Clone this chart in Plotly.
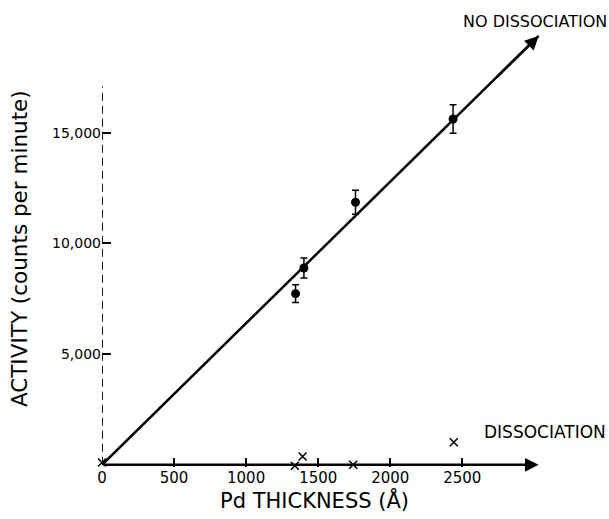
import plotly.graph_objects as go

# Data
thickness_pts = [1343, 1401, 1759, 2436]          # Pd thickness (Å), no dissociation
activity_pts = [7730, 8890, 11860, 15620]         # counts per minute
activity_err = [400, 450, 540, 640]

thickness_x = [0, 1338, 1392, 1743, 2441]         # dissociation points
activity_x = [100, -40, 370, 0, 1020]

fit_x = [0, 3030]                                 # "no dissociation" line
fit_y = [0, 19370]

x_tickvals = [0, 500, 1000, 1500, 2000, 2500]
x_ticktext = ["0", "500", "1000", "1500", "2000", "2500"]
y_tickvals = [5000, 10000, 15000]
y_ticktext = ["5,000", "10,000", "15,000"]

axis_x_end = 3030
axis_y_end = 17100

FONT = "DejaVu Sans"

fig = go.Figure()

# dashed vertical axis
fig.add_trace(go.Scatter(
    x=[0, 0], y=[0, axis_y_end], mode="lines",
    line=dict(color="black", width=1.8, dash="8px,5px"),
    cliponaxis=False, hoverinfo="skip", showlegend=False))

fig.add_trace(go.Scatter(
    x=fit_x, y=fit_y, mode="lines",
    line=dict(color="black", width=2.5),
    cliponaxis=False, hoverinfo="skip", showlegend=False))

fig.add_trace(go.Scatter(
    x=thickness_pts, y=activity_pts, mode="markers",
    marker=dict(symbol="circle", size=9, color="black"),
    error_y=dict(type="data", array=activity_err, visible=True,
                 color="black", thickness=1.5, width=3.5),
    cliponaxis=False, showlegend=False))

fig.add_trace(go.Scatter(
    x=thickness_x, y=activity_x, mode="markers",
    marker=dict(symbol="x-thin", size=8,
                line=dict(color="black", width=1.5)),
    cliponaxis=False, showlegend=False))

annotations = [
    # x-axis arrow
    dict(x=axis_x_end, y=0, ax=0, ay=0, xref="x", yref="y", axref="x", ayref="y",
         text="", showarrow=True, arrowhead=2, arrowsize=1.1, arrowwidth=2.5,
         arrowcolor="black"),
    # arrowhead on the fit line
    dict(x=fit_x[-1], y=fit_y[-1], ax=fit_x[-1] * 0.9, ay=fit_y[-1] * 0.9,
         xref="x", yref="y", axref="x", ayref="y",
         text="", showarrow=True, arrowhead=2, arrowsize=1.1, arrowwidth=2.5,
         arrowcolor="black"),
    dict(x=0.7327, y=1.0007, xref="paper", yref="paper", text="NO DISSOCIATION",
         showarrow=False, xanchor="left", yanchor="middle",
         font=dict(family=FONT, size=16, color="black")),
    dict(x=2635, y=1500, xref="x", yref="y", text="DISSOCIATION",
         showarrow=False, xanchor="left", yanchor="middle",
         font=dict(family=FONT, size=17, color="black")),
    dict(x=0.433, y=-0.075, xref="paper", yref="paper", text="Pd THICKNESS (Å)",
         showarrow=False, xanchor="center", yanchor="middle",
         font=dict(family=FONT, size=21, color="black")),
    dict(x=-0.167, y=0.49, xref="paper", yref="paper",
         text="ACTIVITY (counts per minute)", textangle=-90,
         showarrow=False, xanchor="center", yanchor="middle",
         font=dict(family=FONT, size=21.5, color="black")),
]

fig.update_layout(
    width=609, height=519,
    margin=dict(l=102, r=17, t=22, b=52),
    paper_bgcolor="white", plot_bgcolor="white",
    annotations=annotations,
    xaxis=dict(range=[0, 3400], showgrid=False, zeroline=False, showline=False,
               tickmode="array", tickvals=x_tickvals, ticktext=x_ticktext,
               ticks="inside", ticklen=9, tickwidth=1.5, tickcolor="black",
               tickfont=dict(family=FONT, size=15, color="black")),
    yaxis=dict(range=[-100, 20000], showgrid=False, zeroline=False, showline=False,
               tickmode="array", tickvals=y_tickvals, ticktext=y_ticktext,
               ticks="inside", ticklen=9, tickwidth=1.5, tickcolor="black",
               tickfont=dict(family=FONT, size=14, color="black")),
)

fig.write_html("out.html")
